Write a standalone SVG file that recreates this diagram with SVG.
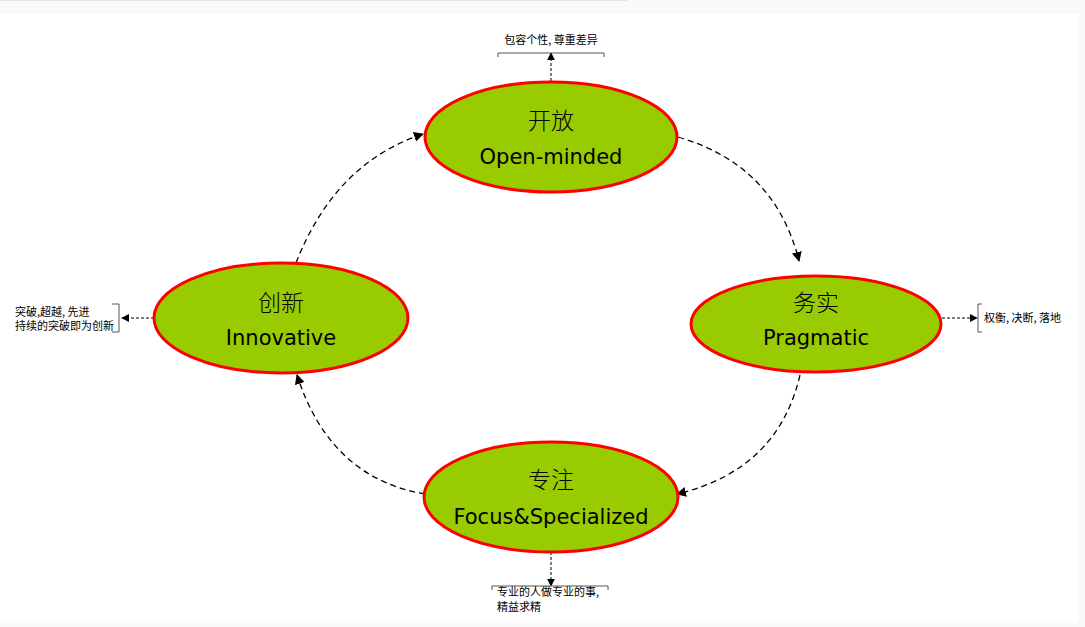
<svg xmlns="http://www.w3.org/2000/svg" width="1085" height="627" viewBox="0 0 1085 627">
<defs>
<style>
.node{fill:#99cc00;stroke:#ff0000;stroke-width:3}
.cn{font-family:"Noto Sans CJK SC",sans-serif;font-size:23px;fill:#000;text-anchor:middle;font-weight:300}
.en{font-family:"DejaVu Sans","Liberation Sans",sans-serif;font-size:21px;fill:#000;text-anchor:middle}
.lab{font-family:"Noto Sans CJK SC",sans-serif;font-size:11px;fill:#000}
.c{fill:none;stroke:#000;stroke-width:1.3;stroke-dasharray:6,4}
.a{fill:none;stroke:#000;stroke-width:1;stroke-dasharray:3,2}
.br{fill:none;stroke:#555;stroke-width:1}
</style>
<marker id="ar" viewBox="0 0 10 10" refX="9" refY="5" markerWidth="8" markerHeight="8" orient="auto" markerUnits="userSpaceOnUse">
<path d="M0,0 L10,5 L0,10 z" fill="#000"/>
</marker>
<marker id="ar2" viewBox="0 0 10 10" refX="9" refY="5" markerWidth="10" markerHeight="10" orient="auto" markerUnits="userSpaceOnUse">
<path d="M0,0 L10,5 L0,10 z" fill="#000"/>
</marker>
</defs>
<rect x="0" y="0" width="1085" height="627" fill="#f9f9f9"/>
<rect x="0" y="14" width="1079" height="609" fill="#ffffff"/>
<line x1="0" y1="0.5" x2="628" y2="0.5" stroke="#e6e6e6" stroke-width="1"/>

<g id="connectors">
<path class="c" d="M296,263 Q335,163 423,134" marker-end="url(#ar2)"/>
<path class="c" d="M678,137 Q775,165 799,261" marker-end="url(#ar2)"/>
<path class="c" d="M800,375 Q778,470 677,494" marker-end="url(#ar2)"/>
<path class="c" d="M425,494 Q330,478 297,375" marker-end="url(#ar2)"/>
<path class="a" d="M551,81 L551,53" marker-end="url(#ar)"/>
<path class="a" d="M942,318 L977,318" marker-end="url(#ar)"/>
<path class="a" d="M154,318 L122,318" marker-end="url(#ar)"/>
<path class="a" d="M551,552 L551,586" marker-end="url(#ar)"/>
</g>

<g id="node-open">
<ellipse class="node" cx="551" cy="137" rx="126" ry="55"/>
<text class="cn" x="551" y="129">开放</text>
<text class="en" x="551" y="164">Open-minded</text>
</g>
<g id="node-pragmatic">
<ellipse class="node" cx="816" cy="324" rx="125" ry="48"/>
<text class="cn" x="816" y="311">务实</text>
<text class="en" x="816" y="345">Pragmatic</text>
</g>
<g id="node-innovative">
<ellipse class="node" cx="281" cy="318" rx="127" ry="55"/>
<text class="cn" x="281" y="311">创新</text>
<text class="en" x="281" y="345">Innovative</text>
</g>
<g id="node-focus">
<ellipse class="node" cx="551" cy="497" rx="127" ry="55"/>
<text class="cn" x="551" y="488">专注</text>
<text class="en" x="551" y="524">Focus&amp;Specialized</text>
</g>

<g id="note-open">
<path class="br" d="M498,57 L498,53 L604,53 L604,57"/>
<text class="lab" x="551" y="44" text-anchor="middle">包容个性, 尊重差异</text>
</g>
<g id="note-pragmatic">
<path class="br" d="M982,304 L978,304 L978,332 L982,332"/>
<text class="lab" x="984" y="322">权衡, 决断, 落地</text>
</g>
<g id="note-innovative">
<path class="br" d="M112,304 L119,304 L119,332 L112,332"/>
<text class="lab" x="15" y="316">突破,超越, 先进</text>
<text class="lab" x="15" y="330">持续的突破即为创新</text>
</g>
<g id="note-focus">
<path class="br" d="M492,590 L492,586 L608,586 L608,590"/>
<text class="lab" x="497" y="596">专业的人做专业的事,</text>
<text class="lab" x="497" y="611">精益求精</text>
</g>
</svg>
